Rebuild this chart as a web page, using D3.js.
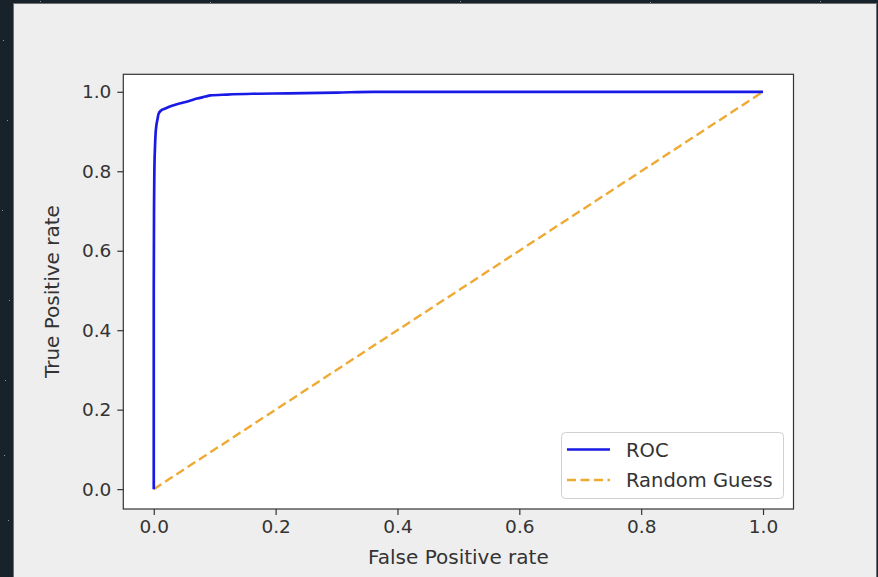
<!DOCTYPE html>
<html><head><meta charset="utf-8">
<script src="https://cdn.jsdelivr.net/npm/d3@7"></script>
<style>html,body{margin:0;padding:0;background:#17222b;}svg{display:block;}</style>
</head><body>
<script>
// ROC curve points (false positive rate, true positive rate)
const fpr = [0.0, 0.0, 0.0005, 0.001, 0.002, 0.003, 0.004, 0.006, 0.008, 0.012, 0.019, 0.03, 0.044, 0.058, 0.071, 0.085, 0.093, 0.12, 0.163, 0.22, 0.3, 0.36, 0.5, 0.7, 1.0];
const tpr = [0.0, 0.5, 0.72, 0.8, 0.86, 0.895, 0.912, 0.93, 0.945, 0.953, 0.958, 0.965, 0.971, 0.977, 0.983, 0.988, 0.991, 0.993, 0.995, 0.996, 0.998, 1.0, 1.0, 1.0, 1.0];
// Random guess diagonal
const guessX = [0, 1];
const guessY = [0, 1];
const xTicks = [0.0, 0.2, 0.4, 0.6, 0.8, 1.0];
const yTicks = [0.0, 0.2, 0.4, 0.6, 0.8, 1.0];
const seriesNames = ["ROC", "Random Guess"];
const seriesColors = ["#1a1ae6", "#eeaa33"];

const W = 878, H = 577;
const svg = d3.select("body").append("svg").attr("width", W).attr("height", H);
svg.append("rect").attr("x",0).attr("y",0).attr("width",W).attr("height",H).attr("fill","#17222b");
// a few faint specks for the dark backdrop
[[3,40],[7,120],[2,210],[9,300],[5,380],[4,455],[8,520],[40,1],[210,2],[460,1],[650,2],[820,1]].forEach(p=>{
  svg.append("rect").attr("x",p[0]).attr("y",p[1]).attr("width",1).attr("height",1).attr("fill","#8a9aa8");
});
svg.append("rect").attr("x",13.5).attr("y",3.5).attr("width",863).attr("height",H).attr("fill","#eeeeee").attr("stroke","#6f6f6f").attr("stroke-width",1);

const L = 123.3, R = 793.5, T = 74.3, B = 509;
const x = d3.scaleLinear().domain([-0.05, 1.05]).range([L, R]);
const y = d3.scaleLinear().domain([-0.05, 1.044]).range([B, T]);

svg.append("rect").attr("x",L).attr("y",T).attr("width",R-L).attr("height",B-T).attr("fill","#ffffff");

const font = "DejaVu Sans, sans-serif";
const txt = "#333333";

const xAxis = svg.append("g").attr("transform",`translate(0,${B})`)
  .call(d3.axisBottom(x).tickValues(xTicks).tickFormat(d3.format(".1f")).tickSize(6).tickPadding(5));
const yAxis = svg.append("g").attr("transform",`translate(${L},0)`)
  .call(d3.axisLeft(y).tickValues(yTicks).tickFormat(d3.format(".1f")).tickSize(6).tickPadding(6));
[xAxis,yAxis].forEach(a=>{
  a.select(".domain").remove();
  a.selectAll(".tick line").attr("stroke","#333").attr("stroke-width",1.2);
  a.selectAll(".tick text").attr("fill",txt).style("font-family",font).style("font-size","18.5px");
});

const clip = svg.append("clipPath").attr("id","c").append("rect").attr("x",L).attr("y",T).attr("width",R-L).attr("height",B-T);
const plot = svg.append("g").attr("clip-path","url(#c)");

const line = d3.line().x(d=>x(d[0])).y(d=>y(d[1]));
plot.append("path").datum(d3.zip(guessX, guessY)).attr("d", line)
  .attr("fill","none").attr("stroke",seriesColors[1]).attr("stroke-width",2.4).attr("stroke-dasharray","9,4.5");
plot.append("path").datum(d3.zip(fpr, tpr)).attr("d", d3.line().curve(d3.curveMonotoneX).x(d=>x(d[0])).y(d=>y(d[1])))
  .attr("fill","none").attr("stroke",seriesColors[0]).attr("stroke-width",2.7).attr("stroke-linejoin","round");

svg.append("rect").attr("x",L).attr("y",T).attr("width",R-L).attr("height",B-T)
  .attr("fill","none").attr("stroke","#333").attr("stroke-width",1.2);

svg.append("text").attr("x",(L+R)/2).attr("y",564).attr("text-anchor","middle")
  .attr("fill",txt).style("font-family",font).style("font-size","20px").text("False Positive rate");
svg.append("text").attr("transform",`translate(59,${(T+B)/2}) rotate(-90)`).attr("text-anchor","middle")
  .attr("fill",txt).style("font-family",font).style("font-size","20px").text("True Positive rate");

// legend
const lg = svg.append("g");
lg.append("rect").attr("x",561.5).attr("y",432.5).attr("width",222).attr("height",66).attr("rx",4)
  .attr("fill","#ffffff").attr("fill-opacity",0.85).attr("stroke","#d0d0d0").attr("stroke-width",1);
const ly = [449.5, 480];
seriesNames.forEach((n,i)=>{
  lg.append("line").attr("x1",567).attr("x2",610).attr("y1",ly[i]).attr("y2",ly[i])
    .attr("stroke",seriesColors[i]).attr("stroke-width", i===0?2.7:2.4)
    .attr("stroke-dasharray", i===0?null:"9,4.5");
  lg.append("text").attr("x",626).attr("y",ly[i]).attr("dy","0.36em")
    .attr("fill",txt).style("font-family",font).style("font-size","19.5px").text(n);
});
</script>
</body></html>
